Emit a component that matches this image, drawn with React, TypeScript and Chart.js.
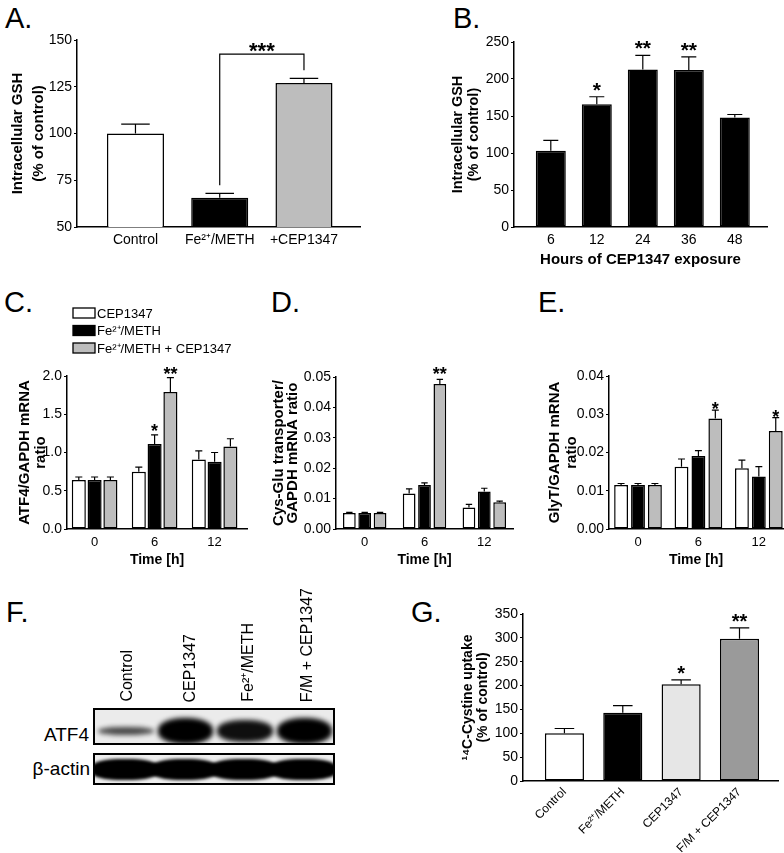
import React, { useEffect, useRef } from 'react';
import { Chart, registerables } from 'chart.js';

Chart.register(...registerables);

const FONT = "'Liberation Sans', Arial, Helvetica, sans-serif";

// ---------- Panel A ----------
const aLabels = ['Control', 'Fe²⁺/METH', '+CEP1347'];
const aValues = [100, 65.7, 127];
const aErrors = [5, 2.3, 2.5];
const aYTicks = [50, 75, 100, 125, 150];
const aBracket = { from: 1, to: 2, level: 142.5, label: '***' };

// ---------- Panel B ----------
const bLabels = ['6', '12', '24', '36', '48'];
const bValues = [103, 166, 213, 212, 148];
const bErrors = [14, 10, 19, 18, 4];
const bStars = ['', '*', '**', '**', ''];
const bYTicks = [0, 50, 100, 150, 200, 250];

// ---------- Panels C, D, E ----------
const timeLabels = ['0', '6', '12'];
const seriesNames = ['CEP1347', 'Fe²⁺/METH', 'Fe²⁺/METH + CEP1347'];

const cCep = [0.64, 0.75, 0.91];
const cCepErr = [0.04, 0.06, 0.11];
const cFe = [0.64, 1.11, 0.88];
const cFeErr = [0.04, 0.12, 0.12];
const cCombo = [0.64, 1.79, 1.08];
const cComboErr = [0.04, 0.19, 0.1];
const cFeStars = ['', '*', ''];
const cComboStars = ['', '**', ''];
const cYTicks = [0, 0.5, 1.0, 1.5, 2.0];

const dCep = [0.0053, 0.0117, 0.0071];
const dCepErr = [0.0002, 0.0015, 0.001];
const dFe = [0.0053, 0.0145, 0.0123];
const dFeErr = [0.0002, 0.0007, 0.0011];
const dCombo = [0.0053, 0.0477, 0.0088];
const dComboErr = [0.0002, 0.0015, 0.0004];
const dComboStars = ['', '**', ''];
const dYTicks = [0, 0.01, 0.02, 0.03, 0.04, 0.05];

const eCep = [0.0115, 0.0163, 0.0159];
const eCepErr = [0.0004, 0.002, 0.0021];
const eFe = [0.0115, 0.0191, 0.0137];
const eFeErr = [0.0004, 0.0014, 0.0026];
const eCombo = [0.0115, 0.0289, 0.0256];
const eComboErr = [0.0004, 0.0022, 0.0035];
const eComboStars = ['', '*', '*'];
const eYTicks = [0, 0.01, 0.02, 0.03, 0.04];

// ---------- Panel F (western blot) ----------
const blotLanes = ['Control', 'CEP1347', 'Fe²⁺/METH', 'F/M + CEP1347'];
const atf4Levels = [0.35, 1.0, 0.85, 1.0];
const actinLevels = [1.0, 1.0, 1.0, 1.0];

// ---------- Panel G ----------
const gLabels = ['Control', 'Fe²⁺/METH', 'CEP1347', 'F/M + CEP1347'];
const gValues = [100, 143, 203, 298];
const gErrors = [10, 15, 9, 23];
const gStars = ['', '', '*', '**'];
const gYTicks = [0, 50, 100, 150, 200, 250, 300, 350];

// ---------- styles ----------
const GRAY = '#bdbdbd';
const seriesColors = ['#ffffff', '#000000', GRAY];
const gColors = ['#ffffff', '#000000', '#e6e6e6', '#9a9a9a'];

type Box = { l: number; t: number; r: number; b: number };

function errorBarPlugin(starSize: number, starGap: number) {
  return {
    id: 'errorBars',
    afterDatasetsDraw(chart: any) {
      const ctx = chart.ctx;
      const y = chart.scales.y;
      chart.data.datasets.forEach((ds: any, di: number) => {
        const meta = chart.getDatasetMeta(di);
        meta.data.forEach((bar: any, i: number) => {
          const v = ds.data[i].y;
          const err = ds.errors ? ds.errors[i] : 0;
          const top = y.getPixelForValue(v + err);
          ctx.save();
          ctx.strokeStyle = '#000';
          ctx.lineWidth = 1.2;
          if (err > 0) {
            const half = bar.width / 4;
            ctx.beginPath();
            ctx.moveTo(bar.x, bar.y);
            ctx.lineTo(bar.x, top);
            ctx.moveTo(bar.x - half, top);
            ctx.lineTo(bar.x + half, top);
            ctx.stroke();
          }
          const s = ds.stars && ds.stars[i];
          if (s) {
            ctx.fillStyle = '#000';
            ctx.font = `bold ${starSize}px ${FONT}`;
            ctx.textAlign = 'center';
            ctx.textBaseline = 'alphabetic';
            ctx.fillText(s, bar.x, top - starGap);
          }
          ctx.restore();
        });
      });
    },
  };
}

function bracketPlugin(br: { from: number; to: number; level: number; label: string }) {
  return {
    id: 'bracket',
    afterDatasetsDraw(chart: any) {
      const ctx = chart.ctx;
      const y = chart.scales.y;
      const ds = chart.data.datasets[0];
      const meta = chart.getDatasetMeta(0);
      const b1 = meta.data[br.from];
      const b2 = meta.data[br.to];
      const top = y.getPixelForValue(br.level);
      const e1 = y.getPixelForValue(ds.data[br.from].y + ds.errors[br.from]) - 8;
      const e2 = y.getPixelForValue(ds.data[br.to].y + ds.errors[br.to]) - 8;
      ctx.save();
      ctx.strokeStyle = '#000';
      ctx.lineWidth = 1.2;
      ctx.beginPath();
      ctx.moveTo(b1.x, e1);
      ctx.lineTo(b1.x, top);
      ctx.lineTo(b2.x, top);
      ctx.lineTo(b2.x, e2);
      ctx.stroke();
      ctx.fillStyle = '#000';
      ctx.font = `bold 22px ${FONT}`;
      ctx.textAlign = 'center';
      ctx.textBaseline = 'alphabetic';
      ctx.fillText(br.label, (b1.x + b2.x) / 2, top + 4);
      ctx.restore();
    },
  };
}

const boxLegendPlugin = {
  id: 'boxLegend',
  afterDraw(chart: any) {
    const { ctx, chartArea } = chart;
    chart.data.datasets.forEach((ds: any, i: number) => {
      const cy = chartArea.top - 63 + i * 17.5;
      const x = chartArea.left + 6;
      ctx.save();
      ctx.fillStyle = ds.backgroundColor;
      ctx.fillRect(x, cy - 5, 22, 10);
      ctx.strokeStyle = '#000';
      ctx.lineWidth = 1.3;
      ctx.strokeRect(x, cy - 5, 22, 10);
      ctx.fillStyle = '#000';
      ctx.font = `13px ${FONT}`;
      ctx.textAlign = 'left';
      ctx.textBaseline = 'middle';
      ctx.fillText(ds.label, x + 24, cy + 1);
      ctx.restore();
    });
  },
};

type Spec = {
  box: Box;
  area: Box;
  datasets: any[];
  plugins: any[];
  xLabels: string[];
  xMin: number;
  xMax: number;
  xFont: number;
  xPad: number;
  xRot?: number;
  xTitle?: string;
  xTitleSize?: number;
  xTitlePad?: number;
  yTicks: number[];
  yFmt: (v: number) => string;
  yTitle: string[];
  yTitleSize: number;
  yTitleLH: number;
  yTitlePad: number;
  catPct: number;
  barPct: number;
};

function makeConfig(p: Spec): any {
  const yWidth = p.area.l - p.box.l;
  const xHeight = p.box.b - p.area.b;
  const rot = p.xRot || 0;
  return {
    type: 'bar',
    data: { datasets: p.datasets },
    plugins: p.plugins,
    options: {
      animation: false,
      responsive: true,
      maintainAspectRatio: false,
      events: [],
      layout: { padding: { top: p.area.t - p.box.t, right: p.box.r - p.area.r, left: 0, bottom: 0 } },
      datasets: { bar: { categoryPercentage: p.catPct, barPercentage: p.barPct } },
      plugins: { legend: { display: false }, tooltip: { enabled: false } },
      scales: {
        x: {
          type: 'linear',
          min: p.xMin,
          max: p.xMax,
          offset: false,
          afterBuildTicks: (s: any) => {
            s.ticks = p.xLabels.map((_, i) => ({ value: i }));
          },
          afterFit: (s: any) => {
            s.height = xHeight;
          },
          ticks: {
            callback: (v: any) => p.xLabels[v] ?? '',
            font: { family: FONT, size: p.xFont },
            color: '#000',
            padding: p.xPad,
            autoSkip: false,
            minRotation: rot,
            maxRotation: rot,
          },
          grid: { display: false, drawTicks: false },
          border: { display: true, color: '#000', width: 1.5 },
          title: p.xTitle
            ? {
                display: true,
                text: p.xTitle,
                color: '#000',
                font: { family: FONT, size: p.xTitleSize, weight: 'bold' },
                padding: { top: 0, bottom: p.xTitlePad },
              }
            : { display: false },
        },
        y: {
          type: 'linear',
          min: p.yTicks[0],
          max: p.yTicks[p.yTicks.length - 1],
          beginAtZero: false,
          afterBuildTicks: (s: any) => {
            s.ticks = p.yTicks.map((v) => ({ value: v }));
          },
          afterFit: (s: any) => {
            s.width = yWidth;
          },
          ticks: {
            callback: (v: any) => p.yFmt(Number(v)),
            font: { family: FONT, size: 14 },
            color: '#000',
            padding: 2,
            autoSkip: false,
          },
          grid: { display: true, drawOnChartArea: false, drawTicks: true, tickLength: 3, color: '#000', lineWidth: 1 },
          border: { display: true, color: '#000', width: 1.5 },
          title: {
            display: true,
            text: p.yTitle,
            color: '#000',
            font: { family: FONT, size: p.yTitleSize, weight: 'bold', lineHeight: p.yTitleLH / p.yTitleSize },
            padding: { top: p.yTitlePad, bottom: 0 },
          },
        },
      },
    },
  };
}

function singleDataset(values: number[], errors: number[], stars: string[] | null, colors: string[] | string) {
  return [
    {
      label: 'data',
      data: values.map((y, i) => ({ x: i, y })),
      errors,
      stars,
      backgroundColor: colors,
      borderColor: '#000',
      borderWidth: 1.5,
      borderSkipped: false,
    },
  ];
}

function groupedDatasets(vals: number[][], errs: number[][], stars: (string[] | null)[]) {
  return vals.map((v, s) => ({
    label: seriesNames[s],
    data: v.map((y, i) => ({ x: i, y })),
    errors: errs[s],
    stars: stars[s],
    backgroundColor: seriesColors[s],
    borderColor: '#000',
    borderWidth: 1.5,
    borderSkipped: false,
  }));
}

const specA = (): Spec => ({
  box: { l: 0, t: 28, r: 372, b: 255 },
  area: { l: 77, t: 40, r: 360, b: 227 },
  datasets: singleDataset(aValues, aErrors, null, ['#ffffff', '#000000', GRAY]),
  plugins: [errorBarPlugin(21, 0), bracketPlugin(aBracket)],
  xLabels: aLabels,
  xMin: -0.694,
  xMax: 2.665,
  xFont: 14,
  xPad: 5,
  yTicks: aYTicks,
  yFmt: (v) => String(v),
  yTitle: ['Intracellular GSH', '(% of control)'],
  yTitleSize: 15,
  yTitleLH: 21,
  yTitlePad: 7.5,
  catPct: 1,
  barPct: 0.677,
});

const specB = (): Spec => ({
  box: { l: 440, t: 28, r: 780, b: 275 },
  area: { l: 514, t: 42, r: 767, b: 227 },
  datasets: singleDataset(bValues, bErrors, bStars, '#000000'),
  plugins: [errorBarPlugin(21, 0)],
  xLabels: bLabels,
  xMin: -0.8,
  xMax: 4.7,
  xFont: 14,
  xPad: 5,
  xTitle: 'Hours of CEP1347 exposure',
  xTitleSize: 15,
  xTitlePad: 6,
  yTicks: bYTicks,
  yFmt: (v) => String(v),
  yTitle: ['Intracellular GSH', '(% of control)'],
  yTitleSize: 14.5,
  yTitleLH: 16,
  yTitlePad: 10,
  catPct: 1,
  barPct: 0.652,
});

const specC = (): Spec => ({
  box: { l: 0, t: 298, r: 258, b: 575 },
  area: { l: 67, t: 376, r: 247, b: 529 },
  datasets: groupedDatasets([cCep, cFe, cCombo], [cCepErr, cFeErr, cComboErr], [null, cFeStars, cComboStars]),
  plugins: [errorBarPlugin(18, -2), boxLegendPlugin],
  xLabels: timeLabels,
  xMin: -0.46,
  xMax: 2.54,
  xFont: 13,
  xPad: 6,
  xTitle: 'Time [h]',
  xTitleSize: 14,
  xTitlePad: 6.6,
  yTicks: cYTicks,
  yFmt: (v) => v.toFixed(1),
  yTitle: ['ATF4/GAPDH mRNA', 'ratio'],
  yTitleSize: 15,
  yTitleLH: 16,
  yTitlePad: 17,
  catPct: 0.79,
  barPct: 0.89,
});

const specD = (): Spec => ({
  box: { l: 262, t: 298, r: 522, b: 575 },
  area: { l: 336, t: 377, r: 513, b: 529 },
  datasets: groupedDatasets([dCep, dFe, dCombo], [dCepErr, dFeErr, dComboErr], [null, null, dComboStars]),
  plugins: [errorBarPlugin(18, -1)],
  xLabels: timeLabels,
  xMin: -0.48,
  xMax: 2.48,
  xFont: 13,
  xPad: 6,
  xTitle: 'Time [h]',
  xTitleSize: 14,
  xTitlePad: 6.6,
  yTicks: dYTicks,
  yFmt: (v) => v.toFixed(2),
  yTitle: ['Cys-Glu transporter/', 'GAPDH mRNA ratio'],
  yTitleSize: 15,
  yTitleLH: 14,
  yTitlePad: 10,
  catPct: 0.77,
  barPct: 0.83,
});

const specE = (): Spec => ({
  box: { l: 530, t: 298, r: 784, b: 575 },
  area: { l: 609, t: 376, r: 783, b: 529 },
  datasets: groupedDatasets([eCep, eFe, eCombo], [eCepErr, eFeErr, eComboErr], [null, null, eComboStars]),
  plugins: [errorBarPlugin(18, -5)],
  xLabels: timeLabels,
  xMin: -0.48,
  xMax: 2.4,
  xFont: 13,
  xPad: 6,
  xTitle: 'Time [h]',
  xTitleSize: 14,
  xTitlePad: 6.6,
  yTicks: eYTicks,
  yFmt: (v) => v.toFixed(2),
  yTitle: ['GlyT/GAPDH mRNA', 'ratio'],
  yTitleSize: 15,
  yTitleLH: 17,
  yTitlePad: 16.5,
  catPct: 0.84,
  barPct: 0.82,
});

const specG = (): Spec => ({
  box: { l: 445, t: 600, r: 784, b: 853 },
  area: { l: 523, t: 614, r: 778, b: 781 },
  datasets: singleDataset(gValues, gErrors, gStars, gColors),
  plugins: [errorBarPlugin(20, 0)],
  xLabels: gLabels,
  xMin: -0.71,
  xMax: 3.66,
  xFont: 12,
  xPad: 4,
  xRot: 45,
  yTicks: gYTicks,
  yFmt: (v) => String(v),
  yTitle: ['¹⁴C-Cystine uptake', '(% of control)'],
  yTitleSize: 14,
  yTitleLH: 15,
  yTitlePad: 15.5,
  catPct: 1,
  barPct: 0.67,
});

function ChartBox({ spec }: { spec: () => Spec }) {
  const ref = useRef<HTMLCanvasElement>(null);
  const s = spec();
  useEffect(() => {
    const chart = new Chart(ref.current as HTMLCanvasElement, makeConfig(spec()));
    return () => chart.destroy();
  }, []);
  return (
    <div
      style={{
        position: 'absolute',
        left: s.box.l,
        top: s.box.t,
        width: s.box.r - s.box.l,
        height: s.box.b - s.box.t,
      }}
    >
      <canvas ref={ref} />
    </div>
  );
}

function Letter({ text, x, baseline }: { text: string; x: number; baseline: number }) {
  return (
    <div
      style={{
        position: 'absolute',
        left: x,
        top: baseline - 24.5,
        fontSize: 29,
        lineHeight: '29px',
        fontFamily: FONT,
        color: '#000',
        whiteSpace: 'nowrap',
      }}
    >
      {text}
    </div>
  );
}

function Blot() {
  const boxL = 93;
  const boxW = 242;
  const laneW = (boxW - 4) / blotLanes.length;
  const laneCenters = [127, 190, 248, 307];
  return (
    <>
      {blotLanes.map((name, i) => (
        <div
          key={name}
          style={{
            position: 'absolute',
            left: laneCenters[i] - 10,
            bottom: 853 - 702,
            width: 20,
            writingMode: 'vertical-rl',
            transform: 'rotate(180deg)',
            fontFamily: FONT,
            fontSize: 16,
            lineHeight: '20px',
            whiteSpace: 'nowrap',
            color: '#000',
          }}
        >
          {name}
        </div>
      ))}
      <div
        style={{
          position: 'absolute',
          left: 0,
          width: 89,
          top: 725,
          textAlign: 'right',
          fontFamily: FONT,
          fontSize: 19,
          lineHeight: '19px',
          color: '#000',
        }}
      >
        ATF4
      </div>
      <div
        style={{
          position: 'absolute',
          left: 0,
          width: 90,
          top: 759,
          textAlign: 'right',
          fontFamily: FONT,
          fontSize: 19,
          lineHeight: '19px',
          color: '#000',
        }}
      >
        β-actin
      </div>
      <div
        style={{
          position: 'absolute',
          left: boxL,
          top: 708,
          width: boxW,
          height: 37,
          boxSizing: 'border-box',
          border: '2px solid #000',
          background: '#ebebeb',
          overflow: 'hidden',
        }}
      >
        {atf4Levels.map((lv, i) => {
          const h = 4 + 22 * Math.pow(lv, 1.5);
          return (
            <div
              key={i}
              style={{
                position: 'absolute',
                left: i * laneW + 3,
                width: laneW - 4,
                top: 21 - h / 2,
                height: h,
                background: '#000',
                opacity: 0.55 + 0.45 * lv,
                borderRadius: '45%',
                filter: 'blur(2.5px)',
              }}
            />
          );
        })}
      </div>
      <div
        style={{
          position: 'absolute',
          left: boxL,
          top: 753,
          width: boxW,
          height: 32,
          boxSizing: 'border-box',
          border: '2px solid #000',
          background: '#eeeeee',
          overflow: 'hidden',
        }}
      >
        {actinLevels.map((lv, i) => (
          <div
            key={i}
            style={{
              position: 'absolute',
              left: i * laneW - 4,
              width: laneW + 8,
              top: 4,
              height: 21,
              background: '#000',
              opacity: 0.6 + 0.4 * lv,
              borderRadius: '40%',
              filter: 'blur(1.8px)',
            }}
          />
        ))}
      </div>
    </>
  );
}

export default function App() {
  useEffect(() => {
    document.body.style.margin = '0';
  }, []);
  return (
    <div
      style={{
        position: 'absolute',
        left: 0,
        top: 0,
        width: 784,
        height: 853,
        background: '#fff',
        overflow: 'hidden',
      }}
    >
      <Letter text="A." x={5} baseline={28} />
      <Letter text="B." x={453} baseline={28} />
      <Letter text="C." x={4} baseline={312} />
      <Letter text="D." x={271} baseline={312} />
      <Letter text="E." x={538} baseline={312} />
      <Letter text="F." x={6} baseline={622} />
      <Letter text="G." x={411} baseline={622} />
      <ChartBox spec={specA} />
      <ChartBox spec={specB} />
      <ChartBox spec={specC} />
      <ChartBox spec={specD} />
      <ChartBox spec={specE} />
      <ChartBox spec={specG} />
      <Blot />
    </div>
  );
}
